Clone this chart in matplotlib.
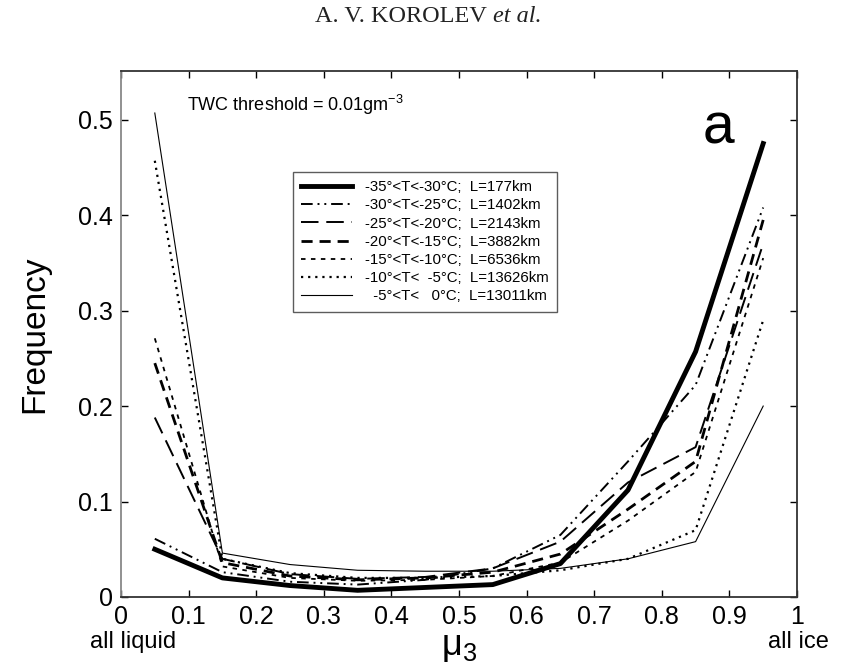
import matplotlib
matplotlib.use("Agg")
import matplotlib.pyplot as plt

plt.rcParams['font.family'] = ['Liberation Sans', 'DejaVu Sans']

mu3 = [0.05, 0.15, 0.25, 0.35, 0.45, 0.55, 0.65, 0.75, 0.85, 0.95]

labels = [
    "-35°<T<-30°C;  L=177km",
    "-30°<T<-25°C;  L=1402km",
    "-25°<T<-20°C;  L=2143km",
    "-20°<T<-15°C;  L=3882km",
    "-15°<T<-10°C;  L=6536km",
    "-10°<T<  -5°C;  L=13626km",
    "  -5°<T<   0°C;  L=13011km",
]

f_35_30 = [0.050, 0.020, 0.012, 0.007, 0.010, 0.013, 0.035, 0.112, 0.257, 0.475]
f_30_25 = [0.061, 0.026, 0.016, 0.013, 0.018, 0.030, 0.065, 0.142, 0.222, 0.408]
f_25_20 = [0.188, 0.040, 0.024, 0.019, 0.021, 0.030, 0.058, 0.120, 0.157, 0.370]
f_20_15 = [0.245, 0.036, 0.022, 0.018, 0.020, 0.026, 0.045, 0.092, 0.142, 0.395]
f_15_10 = [0.271, 0.032, 0.020, 0.017, 0.018, 0.022, 0.036, 0.080, 0.131, 0.355]
f_10_5 = [0.457, 0.040, 0.025, 0.020, 0.020, 0.022, 0.028, 0.040, 0.070, 0.290]
f_5_0 = [0.507, 0.046, 0.034, 0.028, 0.027, 0.027, 0.030, 0.040, 0.058, 0.200]

series = [f_35_30, f_30_25, f_25_20, f_20_15, f_15_10, f_10_5, f_5_0]
styles = [
    dict(ls='-', lw=3.5),
    dict(ls=(0, (6, 2.5, 1, 2.5, 1, 2.5)), lw=1.4),
    dict(ls=(0, (9, 4)), lw=1.4),
    dict(ls=(0, (4, 2.5)), lw=2.0),
    dict(ls=(0, (2.5, 3)), lw=1.3),
    dict(ls=(0, (1, 2.2)), lw=1.6),
    dict(ls='-', lw=0.8),
]

xticks = [0, 0.1, 0.2, 0.3, 0.4, 0.5, 0.6, 0.7, 0.8, 0.9, 1]
xticklabels = ["0", "0.1", "0.2", "0.3", "0.4", "0.5", "0.6", "0.7", "0.8", "0.9", "1"]
yticks = [0, 0.1, 0.2, 0.3, 0.4, 0.5]
yticklabels = ["0", "0.1", "0.2", "0.3", "0.4", "0.5"]

fig = plt.figure(figsize=(8.5, 6.64), dpi=100)
ax = fig.add_axes([121/850, 1-597/664, (797-121)/850, (597-71)/664])

for y, lab, st in zip(series, labels, styles):
    ax.plot(mu3, y, color='black', label=lab, **st)

ax.set_xlim(0, 1)
ax.set_ylim(0, 0.551)
ax.set_xticks(xticks)
ax.set_xticklabels(xticklabels, fontsize=18)
ax.set_yticks(yticks)
ax.set_yticklabels(yticklabels, fontsize=18)
ax.tick_params(direction='in', top=True, right=True, length=5, width=1, pad=6)
for s in ax.spines.values():
    s.set_color('#333333')
    s.set_linewidth(1.3)
ax.spines['left'].set_color('#888888')

ax.set_ylabel("Frequency", fontsize=24, labelpad=20)
ax.set_xlabel(r"$\mathregular{\mu_3}$", fontsize=26, labelpad=0)

ax.text(0.098, 0.958, r"TWC threshold = 0.01gm$^{\mathregular{-3}}$", transform=ax.transAxes,
        fontsize=13, va='top', ha='left')
ax.text(0.861, 0.863, "a", transform=ax.transAxes, fontsize=41, ha='left', va='baseline')

leg = ax.legend(loc='upper left', bbox_to_anchor=(0.254, 0.808), fontsize=10.8,
                handlelength=3.4, handletextpad=0.9, labelspacing=0.28,
                borderpad=0.55, frameon=True, fancybox=False, borderaxespad=0)
leg.get_frame().set_edgecolor('#333333')
leg.get_frame().set_linewidth(1.0)

fig.text(0.106, 1-642/664, "all liquid", fontsize=17, ha='left', va='center')
fig.text(768/850, 1-642/664, "all ice", fontsize=17, ha='left', va='center')

# header, centred as one line
t1 = fig.text(0, 1-16/664, "A. V. KOROLEV ", fontsize=17.5, ha='left', va='center',
              family='Liberation Serif', color='#222222')
t2 = fig.text(0, 1-16/664, "et al.", fontsize=17.5, ha='left', va='center',
              family='Liberation Serif', style='italic', color='#222222')
fig.canvas.draw()
r = fig.canvas.get_renderer()
w1 = t1.get_window_extent(r).width
w2 = t2.get_window_extent(r).width
x0 = 428 - (w1 + w2) / 2
t1.set_x(x0 / 850)
t2.set_x((x0 + w1) / 850)

fig.savefig("out.png", dpi=100)
